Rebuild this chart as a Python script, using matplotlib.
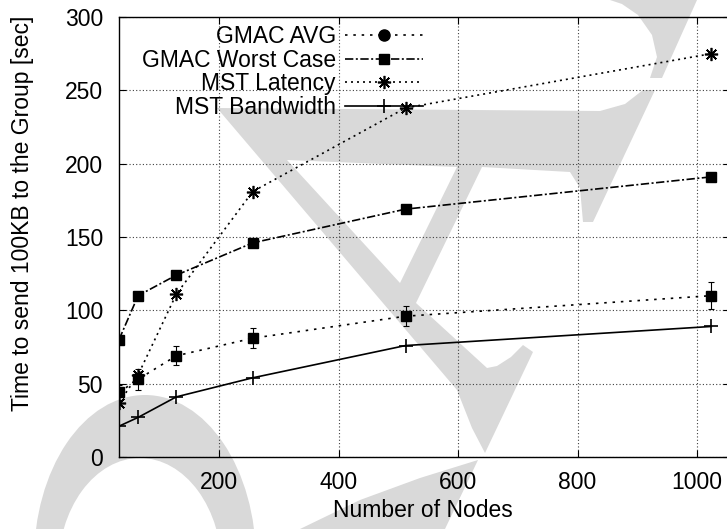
import matplotlib
matplotlib.use("Agg")
import matplotlib.pyplot as plt
from matplotlib.lines import Line2D
from matplotlib.patches import Polygon, Ellipse

plt.rcParams['font.family'] = ['Liberation Sans', 'DejaVu Sans']
plt.rcParams['font.size'] = 16.5

# data
nodes = [32, 64, 128, 256, 512, 1024]
gmac_avg = [44, 53, 69, 81, 96, 110]
gmac_avg_err = [5, 7, 6.5, 7, 7, 9]
gmac_worst = [80, 110, 124, 146, 169, 191]
mst_latency = [37, 56, 111, 181, 238, 275]
mst_bandwidth = [21, 27, 41, 54, 76, 89]

xticks = [200, 400, 600, 800, 1000]
yticks = [0, 50, 100, 150, 200, 250, 300]

W, H = 727, 529


def px(points):
    # pixel coords (y down) -> figure fraction
    return [(x / W, 1 - y / H) for x, y in points]


fig = plt.figure(figsize=(W / 100, H / 100), dpi=100)

# grey "draft" watermark behind the plot
gray = '#d9d9d9'
hook = [(610, 0), (697, 0), (662, 78), (650, 78), (657, 57), (652, 35), (638, 15), (622, 4)]
main = [(217, 108), (600, 111), (625, 104), (643, 90), (655, 90), (593, 222), (583, 222),
        (580, 188), (570, 172), (482, 167), (416, 303), (487, 368), (497, 366), (511, 357),
        (523, 345), (533, 352), (485, 453), (472, 428), (457, 390)]
hole = [(287, 160), (457, 167), (400, 283)]
band = [(478, 460), (445, 529), (300, 529), (360, 500), (420, 478)]
for pts, col in [(hook, gray), (main, gray), (band, gray), (hole, 'white')]:
    fig.add_artist(Polygon(px(pts), closed=True, transform=fig.transFigure,
                           facecolor=col, edgecolor='none', zorder=-2))
fig.add_artist(Ellipse((145 / W, 1 - 560 / H), 2 * 111 / W, 2 * 165 / H,
                       transform=fig.transFigure, facecolor=gray, edgecolor='none', zorder=-2))
fig.add_artist(Ellipse((140 / W, 1 - 570 / H), 2 * 82 / W, 2 * 112 / H,
                       transform=fig.transFigure, facecolor='white', edgecolor='none', zorder=-2))

ax = fig.add_axes([119 / W, 1 - 457 / H, (729.8 - 119) / W, 440 / H])
ax.patch.set_alpha(0)

lw = 1.2
ax.plot(nodes, gmac_avg, color='black', lw=lw, dashes=(1.5, 3.5))
ax.errorbar(nodes, gmac_avg, yerr=gmac_avg_err, fmt='s', color='black', ms=7.9,
            elinewidth=0.8, capsize=2.5, capthick=0.8)
ax.plot(nodes, gmac_worst, color='black', lw=lw, dashes=(5, 1.5, 1.2, 1.5),
        marker='s', ms=7.9)
ax.plot(nodes, mst_latency, color='black', lw=lw, dashes=(1.2, 2.4),
        marker=(8, 2, 0), ms=9.5, mew=1.2)
ax.plot(nodes, mst_bandwidth, color='black', lw=lw, marker='+', ms=10, mew=1.2)

ax.set_xlim(32, 1055)
ax.set_ylim(0, 300)
ax.set_xticks(xticks)
ax.set_yticks(yticks)
ax.tick_params(direction='in', top=True, right=True, length=5, width=0.8)
ax.tick_params(axis='x', pad=10)
ax.tick_params(axis='y', pad=11.5)
for s in ax.spines.values():
    s.set_linewidth(1.0)
ax.grid(True, color='#404040', lw=0.8, linestyle=(0, (1, 2)))

ax.set_xlabel("Number of Nodes")
ax.xaxis.set_label_coords(0.497, -0.095)
ax.set_ylabel("Time to send 100KB to the Group [sec]")
ax.yaxis.set_label_coords(-0.139, 0.5545)

handles = [
    Line2D([], [], color='black', lw=lw, dashes=(1.5, 3.5), marker='o', ms=8),
    Line2D([], [], color='black', lw=lw, dashes=(5, 1.5, 1.2, 1.5), marker='s', ms=7.9),
    Line2D([], [], color='black', lw=lw, dashes=(1.2, 2.4), marker=(8, 2, 0), ms=9.5, mew=1.2),
    Line2D([], [], color='black', lw=lw, marker='+', ms=10, mew=1.2),
]
labels = ["GMAC AVG", "GMAC Worst Case", "MST Latency", "MST Bandwidth"]
fig.legend(handles, labels, loc='upper right', bbox_to_anchor=(423 / W, 1 - 25 / H),
           bbox_transform=fig.transFigure, frameon=False, markerfirst=False,
           handlelength=3.4, handletextpad=0.4, labelspacing=0.03,
           borderpad=0, borderaxespad=0)

fig.savefig("out.png", dpi=100)
